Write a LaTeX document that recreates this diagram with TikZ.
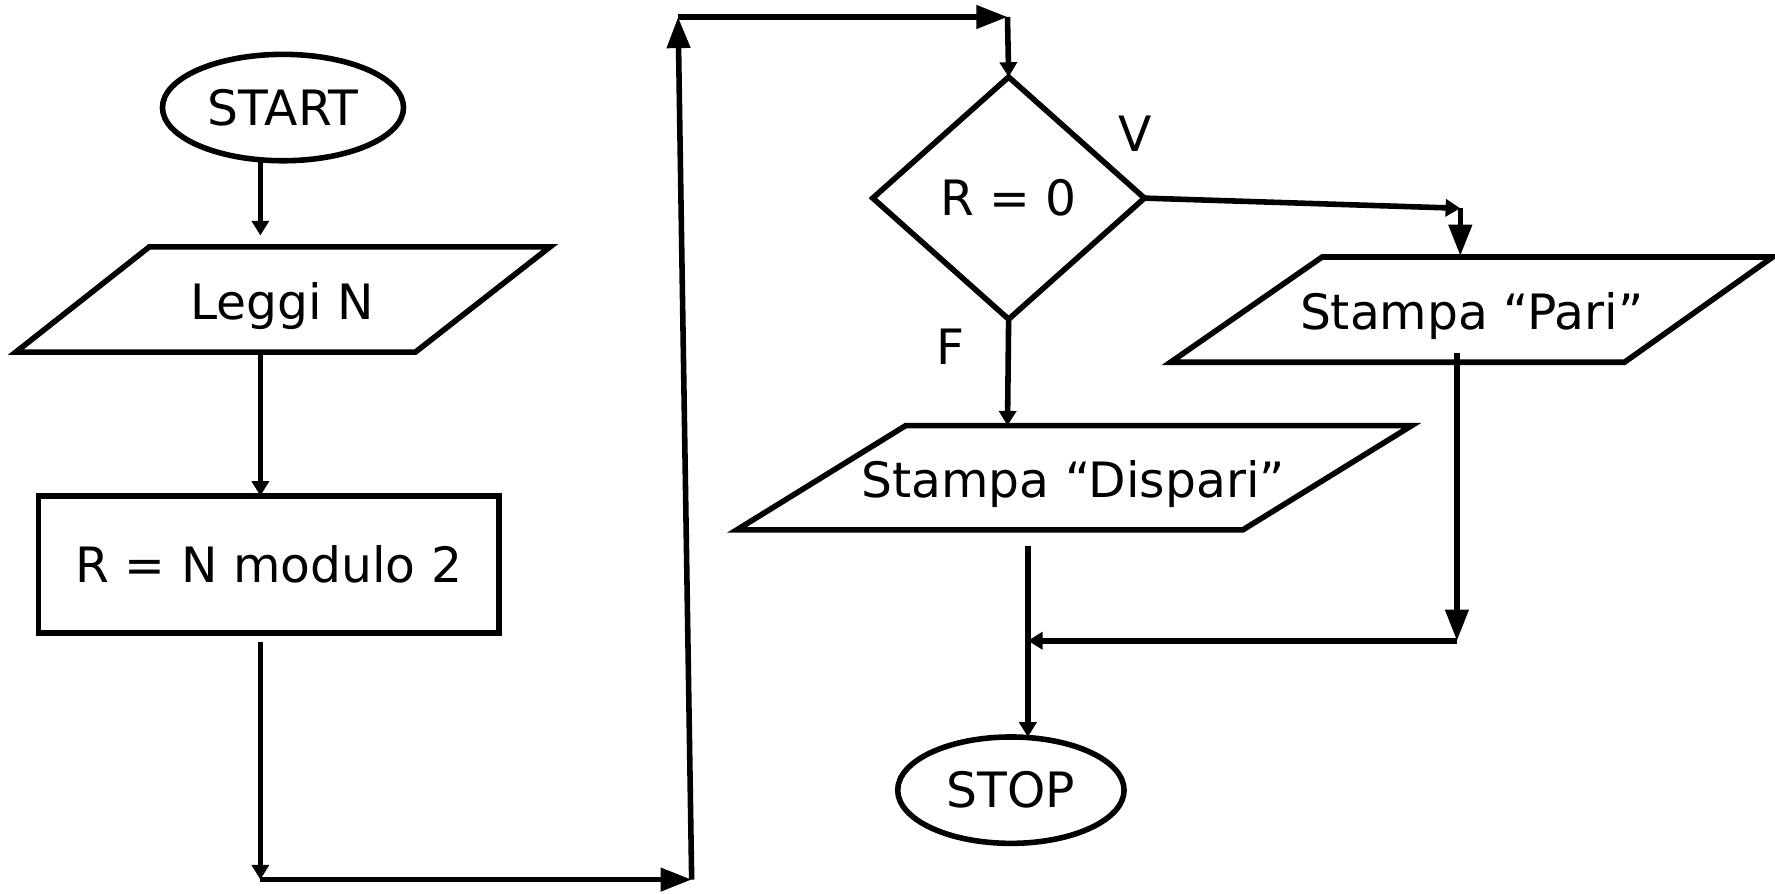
\documentclass[tikz,border=0pt]{standalone}
\usepackage{fontspec}
\setmainfont{DejaVu Sans}
\usetikzlibrary{arrows.meta,shapes.geometric}

\begin{document}
\begin{tikzpicture}[x=0.02cm,y=-0.02cm,line width=2.8pt,
    every node/.style={font=\fontsize{24.5}{28}\selectfont,text height=17.8pt,text depth=0pt,inner sep=0pt,outer sep=0pt},
    term/.style={draw,ellipse},
    calcbox/.style={draw},
    ask/.style={draw,diamond},
    small/.style={-{Triangle[length=0.26cm,width=0.3cm]}},
    big/.style={-{Triangle[length=0.55cm,width=0.4cm]}}]
    \useasboundingbox (0,0) rectangle (1568,789);
    \node[term,minimum width=4.26cm,minimum height=1.88cm] (start) at (250,95) {START};
    \draw (132,218)--(486,218)--(367,311)--(14,311)--cycle;
    \node (leggi) at (249,267) {Leggi N};
    \node[calcbox,minimum width=8.14cm,minimum height=2.42cm] (calc) at (237.5,498.5) {R = N modulo 2};
    \node[ask,minimum width=4.8cm,minimum height=4.28cm] (test) at (891,175) {R = 0};
    \node (vero) at (1003,118) {V};
    \node (falso) at (840,306) {F};
    \draw (1168,227)--(1566,227)--(1435,320)--(1034,320)--cycle;
    \node (pari) at (1300,275) {Stampa “Pari”};
    \draw (800,376)--(1247,376)--(1098,468)--(651,468)--cycle;
    \node (dispari) at (948,424) {Stampa “Dispari”};
    \node[term,minimum width=4cm,minimum height=1.88cm] (stop) at (893,698) {STOP};
    \coordinate (s1) at (230,142);
    \coordinate (s2) at (230,208);
    \coordinate (l1) at (230,311);
    \coordinate (l2) at (230,438);
    \coordinate (r1) at (230,567);
    \coordinate (r2) at (230,777);
    \coordinate (r3) at (611,777);
    \coordinate (r4) at (599,15);
    \coordinate (r5) at (890,15);
    \coordinate (v1) at (1290,184);
    \coordinate (v2) at (1290,226);
    \coordinate (f1) at (890,376);
    \coordinate (p1) at (1287,312);
    \coordinate (p2) at (1287,566);
    \coordinate (p3) at (908,566);
    \coordinate (d1) at (908,482);
    \coordinate (d2) at (908,651);
    \draw[small] (s1)--(s2);
    \draw[small] (l1)--(l2);
    \draw[small] (r1)--(r2);
    \draw[big] (r2)--(r3);
    \draw[big] (r3)--(r4);
    \draw[big] (r4)--(r5);
    \draw[small] (r5)--(test.north);
    \draw[small] (test.east)--(v1);
    \draw[big] (v1)--(v2);
    \draw[small] (test.south)--(f1);
    \draw[big] (p1)--(p2);
    \draw[small] (p2)--(p3);
    \draw[small] (d1)--(d2);
\end{tikzpicture}
\end{document}
